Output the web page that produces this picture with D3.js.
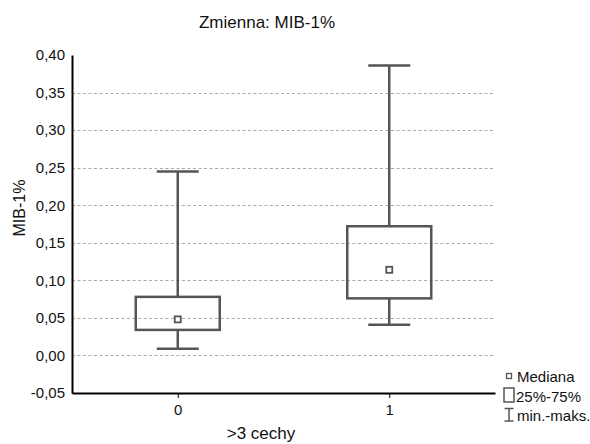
<!DOCTYPE html>
<html>
<head>
<meta charset="utf-8">
<script src="https://cdn.jsdelivr.net/npm/d3@7"></script>
<style>
  body { margin: 0; background: #fff; }
  text { font-family: "Liberation Sans Narrow", "Liberation Sans", sans-serif; fill: #111; }
</style>
</head>
<body>
<svg id="chart" width="590" height="444"></svg>
<script>
// data
var groups = ["0", "1"];
var mins = [0.009, 0.041];
var q1s = [0.034, 0.076];
var medians = [0.048, 0.114];
var q3s = [0.078, 0.172];
var maxs = [0.245, 0.386];
var yTicks = [-0.05, 0, 0.05, 0.10, 0.15, 0.20, 0.25, 0.30, 0.35, 0.40];
var gridTicks = [0, 0.05, 0.10, 0.15, 0.20, 0.25, 0.30, 0.35];

var svg = d3.select("#chart");
var mLeft = 72, mRight = 495, mTop = 55, mBottom = 393;

var x = d3.scaleLinear().domain([-0.5, 1.5]).range([mLeft, mRight]);
var y = d3.scaleLinear().domain([-0.05, 0.40]).range([mBottom, mTop]);
var fmt = function(d) { return d3.format(".2f")(d).replace(".", ",").replace("−", "-"); };

var boxes = groups.map(function(g, i) {
    return { g: +g, min: mins[i], q1: q1s[i], med: medians[i], q3: q3s[i], max: maxs[i] };
});

// grid
svg.append("g").selectAll("line").data(gridTicks).enter().append("line")
    .attr("x1", mLeft).attr("x2", mRight)
    .attr("y1", function(d) { return Math.round(y(d)) + 0.5; })
    .attr("y2", function(d) { return Math.round(y(d)) + 0.5; })
    .attr("stroke", "#aaa").attr("stroke-width", 1)
    .attr("stroke-dasharray", "3,2.5");

// axes
var yAxis = svg.append("g").attr("transform", "translate(" + mLeft + ",0)")
    .call(d3.axisLeft(y).tickValues(yTicks).tickFormat(fmt).tickSize(0).tickPadding(7));
yAxis.select(".domain").attr("stroke", "#000").attr("stroke-width", 2);
yAxis.selectAll("text").style("font-size", "15px").attr("fill", "#111");

var xAxis = svg.append("g").attr("transform", "translate(0," + mBottom + ")")
    .call(d3.axisBottom(x).tickValues(groups.map(Number)).tickFormat(d3.format("d")).tickSize(5).tickSizeOuter(0).tickPadding(6));
xAxis.select(".domain").attr("stroke", "#000").attr("stroke-width", 2);
xAxis.selectAll(".tick line").attr("stroke", "#000").attr("stroke-width", 1);
xAxis.selectAll("text").style("font-size", "15px").attr("fill", "#111");

// boxes
var col = "#555", bw = 84, cw = 42;
var b = svg.append("g").selectAll("g").data(boxes).enter().append("g");
b.append("line")
    .attr("x1", function(d) { return x(d.g); }).attr("x2", function(d) { return x(d.g); })
    .attr("y1", function(d) { return y(d.max); }).attr("y2", function(d) { return y(d.q3); })
    .attr("stroke", col).attr("stroke-width", 2.5);
b.append("line")
    .attr("x1", function(d) { return x(d.g); }).attr("x2", function(d) { return x(d.g); })
    .attr("y1", function(d) { return y(d.q1); }).attr("y2", function(d) { return y(d.min); })
    .attr("stroke", col).attr("stroke-width", 2.5);
b.selectAll(".cap").data(function(d) { return [d.max, d.min].map(function(v) { return { g: d.g, v: v }; }); })
    .enter().append("line")
    .attr("x1", function(d) { return x(d.g) - cw / 2; }).attr("x2", function(d) { return x(d.g) + cw / 2; })
    .attr("y1", function(d) { return y(d.v); }).attr("y2", function(d) { return y(d.v); })
    .attr("stroke", col).attr("stroke-width", 2.5);
b.append("rect")
    .attr("x", function(d) { return x(d.g) - bw / 2; })
    .attr("y", function(d) { return y(d.q3); })
    .attr("width", bw)
    .attr("height", function(d) { return y(d.q1) - y(d.q3); })
    .attr("fill", "none").attr("stroke", col).attr("stroke-width", 2.5);
b.append("rect")
    .attr("x", function(d) { return x(d.g) - 3; })
    .attr("y", function(d) { return y(d.med) - 3; })
    .attr("width", 6).attr("height", 6)
    .attr("fill", "#fff").attr("stroke", col).attr("stroke-width", 1.8);

// titles
svg.append("text").attr("x", 267).attr("y", 28).attr("text-anchor", "middle")
    .style("font-size", "17px").text("Zmienna: MIB-1%");
svg.append("text").attr("transform", "translate(25," + 208 + ") rotate(-90)")
    .attr("text-anchor", "middle").style("font-size", "16px").text("MIB-1%");
svg.append("text").attr("x", 261).attr("y", 439).attr("text-anchor", "middle")
    .style("font-size", "17px").text(">3 cechy");

// legend
var lg = svg.append("g").attr("transform", "translate(503,0)");
lg.append("rect").attr("x", 3.5).attr("y", 373.5).attr("width", 5).attr("height", 5)
    .attr("fill", "#fff").attr("stroke", col).attr("stroke-width", 1.3);
lg.append("text").attr("x", 14).attr("y", 382).style("font-size", "15px").text("Mediana");
lg.append("rect").attr("x", 1).attr("y", 388).attr("width", 10).attr("height", 14)
    .attr("fill", "none").attr("stroke", col).attr("stroke-width", 1.5);
lg.append("text").attr("x", 13).attr("y", 402).style("font-size", "15px").text("25%-75%");
lg.append("path").attr("d", "M1.5,408.5H10.5M6,408.5V421M1.5,421H10.5")
    .attr("fill", "none").attr("stroke", col).attr("stroke-width", 1.5);
lg.append("text").attr("x", 14).attr("y", 421).style("font-size", "15px").text("min.-maks.");
</script>
</body>
</html>
